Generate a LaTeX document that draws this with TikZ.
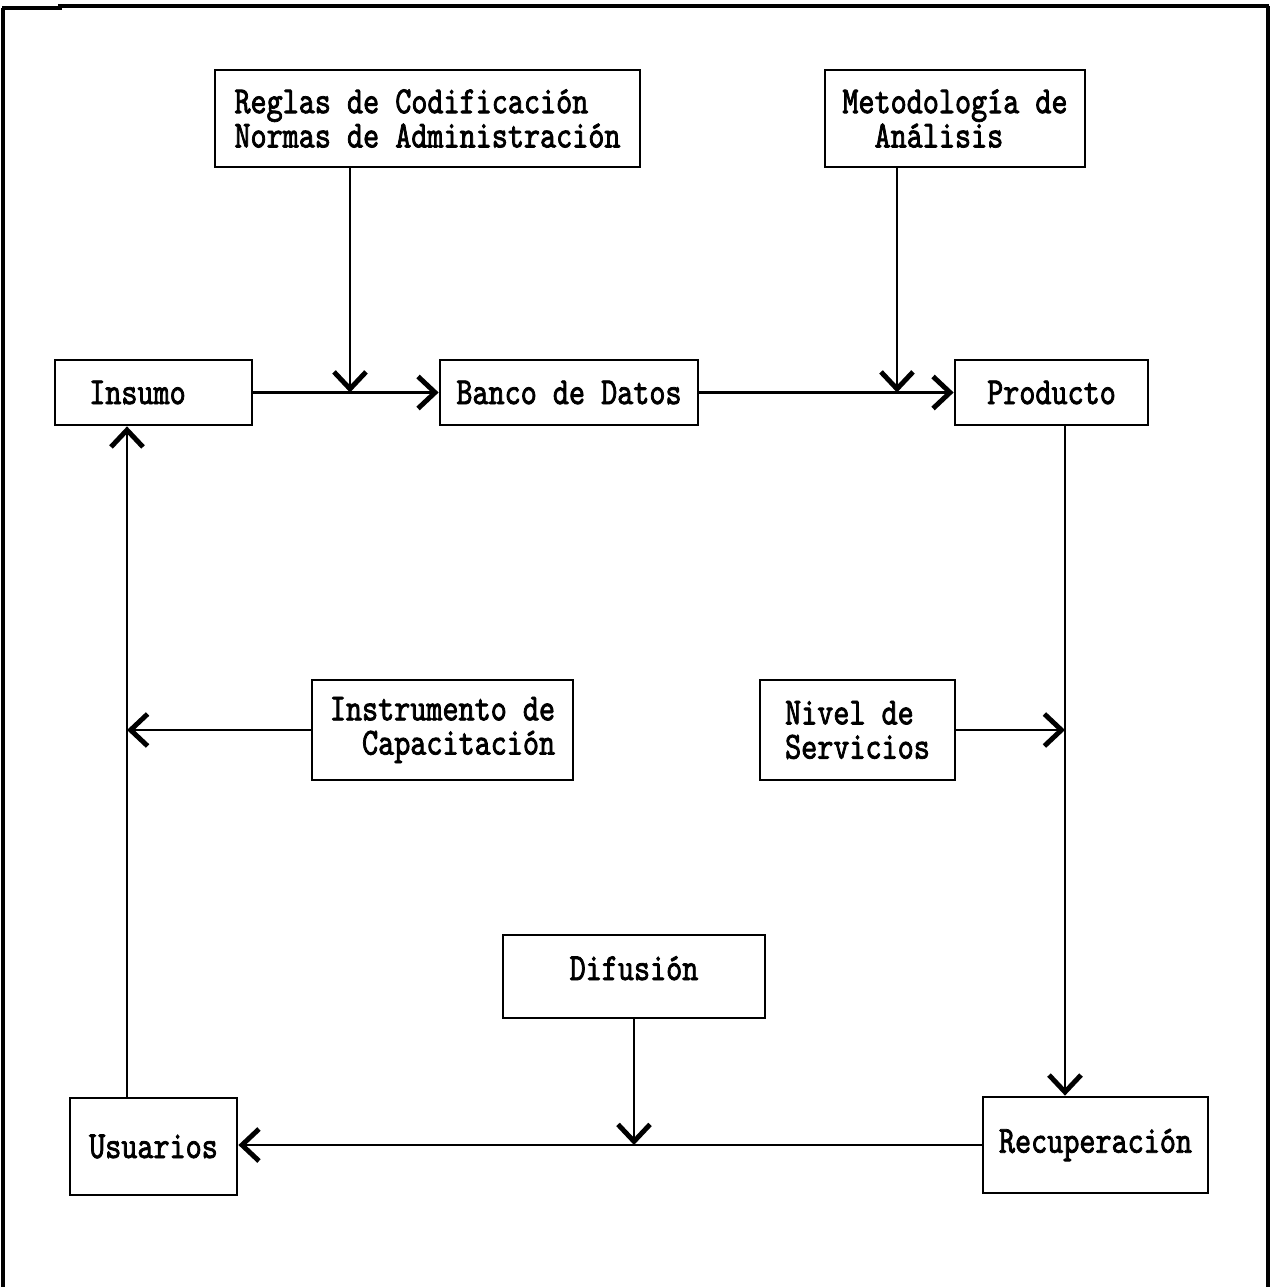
\documentclass[tikz,border=0pt]{standalone}
\usepackage{fontspec}
\newfontfamily\tw{lmmono10-regular.otf}[FakeStretch=0.8,FakeBold=2]
\usetikzlibrary{arrows.meta}
\begin{document}
\begin{tikzpicture}[x=0.02cm,y=-0.02cm,
  box/.style={draw,line width=1.6pt,inner sep=0pt,font=\tw\fontsize{21.8}{19.5}\selectfont},
  conn/.style={line width=1.6pt},
  arr/.style={conn,-{Straight Barb[length=3.4mm,width=6.4mm,line width=2.8pt]}}]
\useasboundingbox (0,0) rectangle (1273,1287);
% frame (open at the bottom)
\draw[line width=1.8pt] (3,1287) -- (3,8);
\draw[line width=1.8pt] (1268,6) -- (1268,1287);
\draw[line width=2.8pt] (2,8) -- (60,8) -- (60,6) -- (1269,6);
% boxes
\node[box,align=left,minimum width=8.5cm,minimum height=1.94cm] (reglas) at (427.5,118.5)
  {Reglas de Codificación\\Normas de Administración};
\node[box,align=left,minimum width=5.2cm,minimum height=1.94cm] (metod) at (955,118.5)
  {Metodología de\\\phantom{de}Análisis};
\node[box,minimum width=3.94cm,minimum height=1.3cm] (insumo) at (153.5,392.5) {Insumo\kern0.64cm};
\node[box,minimum width=5.16cm,minimum height=1.3cm] (banco) at (569,392.5) {Banco de Datos};
\node[box,minimum width=3.86cm,minimum height=1.3cm] (producto) at (1051.5,392.5) {Producto};
\node[box,align=right,minimum width=5.22cm,minimum height=2.0cm] (instr) at (442.5,730)
  {Instrumento de\\Capacitación};
\node[box,align=left,minimum width=3.9cm,minimum height=2.0cm] (nivel) at (857.5,730)
  {Nivel de\\Servicios};
\node[box,minimum width=5.24cm,minimum height=1.66cm] (difusion) at (634,976.5)
  {\raisebox{-2pt}[0pt][0pt]{Difusión}};
\node[box,minimum width=3.34cm,minimum height=1.94cm] (usuarios) at (153.5,1146.5) {Usuarios};
\node[box,minimum width=4.5cm,minimum height=1.92cm] (recup) at (1095.5,1145) {Recuperación};
% junction points
\coordinate (j1) at (350,392.5);
\coordinate (j2) at (897,392.5);
\coordinate (j3) at (1065,730);
\coordinate (j4) at (634,1145);
\coordinate (j5) at (127,730);
% connectors
\draw[arr] (insumo.east) -- (banco.west);
\draw[arr] (reglas.south -| j1) -- (j1);
\draw[arr] (banco.east) -- (producto.west);
\draw[arr] (metod.south -| j2) -- (j2);
\draw[arr] (producto.south -| j3) -- (recup.north -| j3);
\draw[arr] (nivel.east) -- (j3);
\draw[arr] (recup.west) -- (recup.west -| usuarios.east);
\draw[arr] (difusion.south) -- (j4);
\draw[arr] (usuarios.north -| j5) -- (insumo.south -| j5);
\draw[arr] (instr.west) -- (j5);
\end{tikzpicture}
\end{document}
